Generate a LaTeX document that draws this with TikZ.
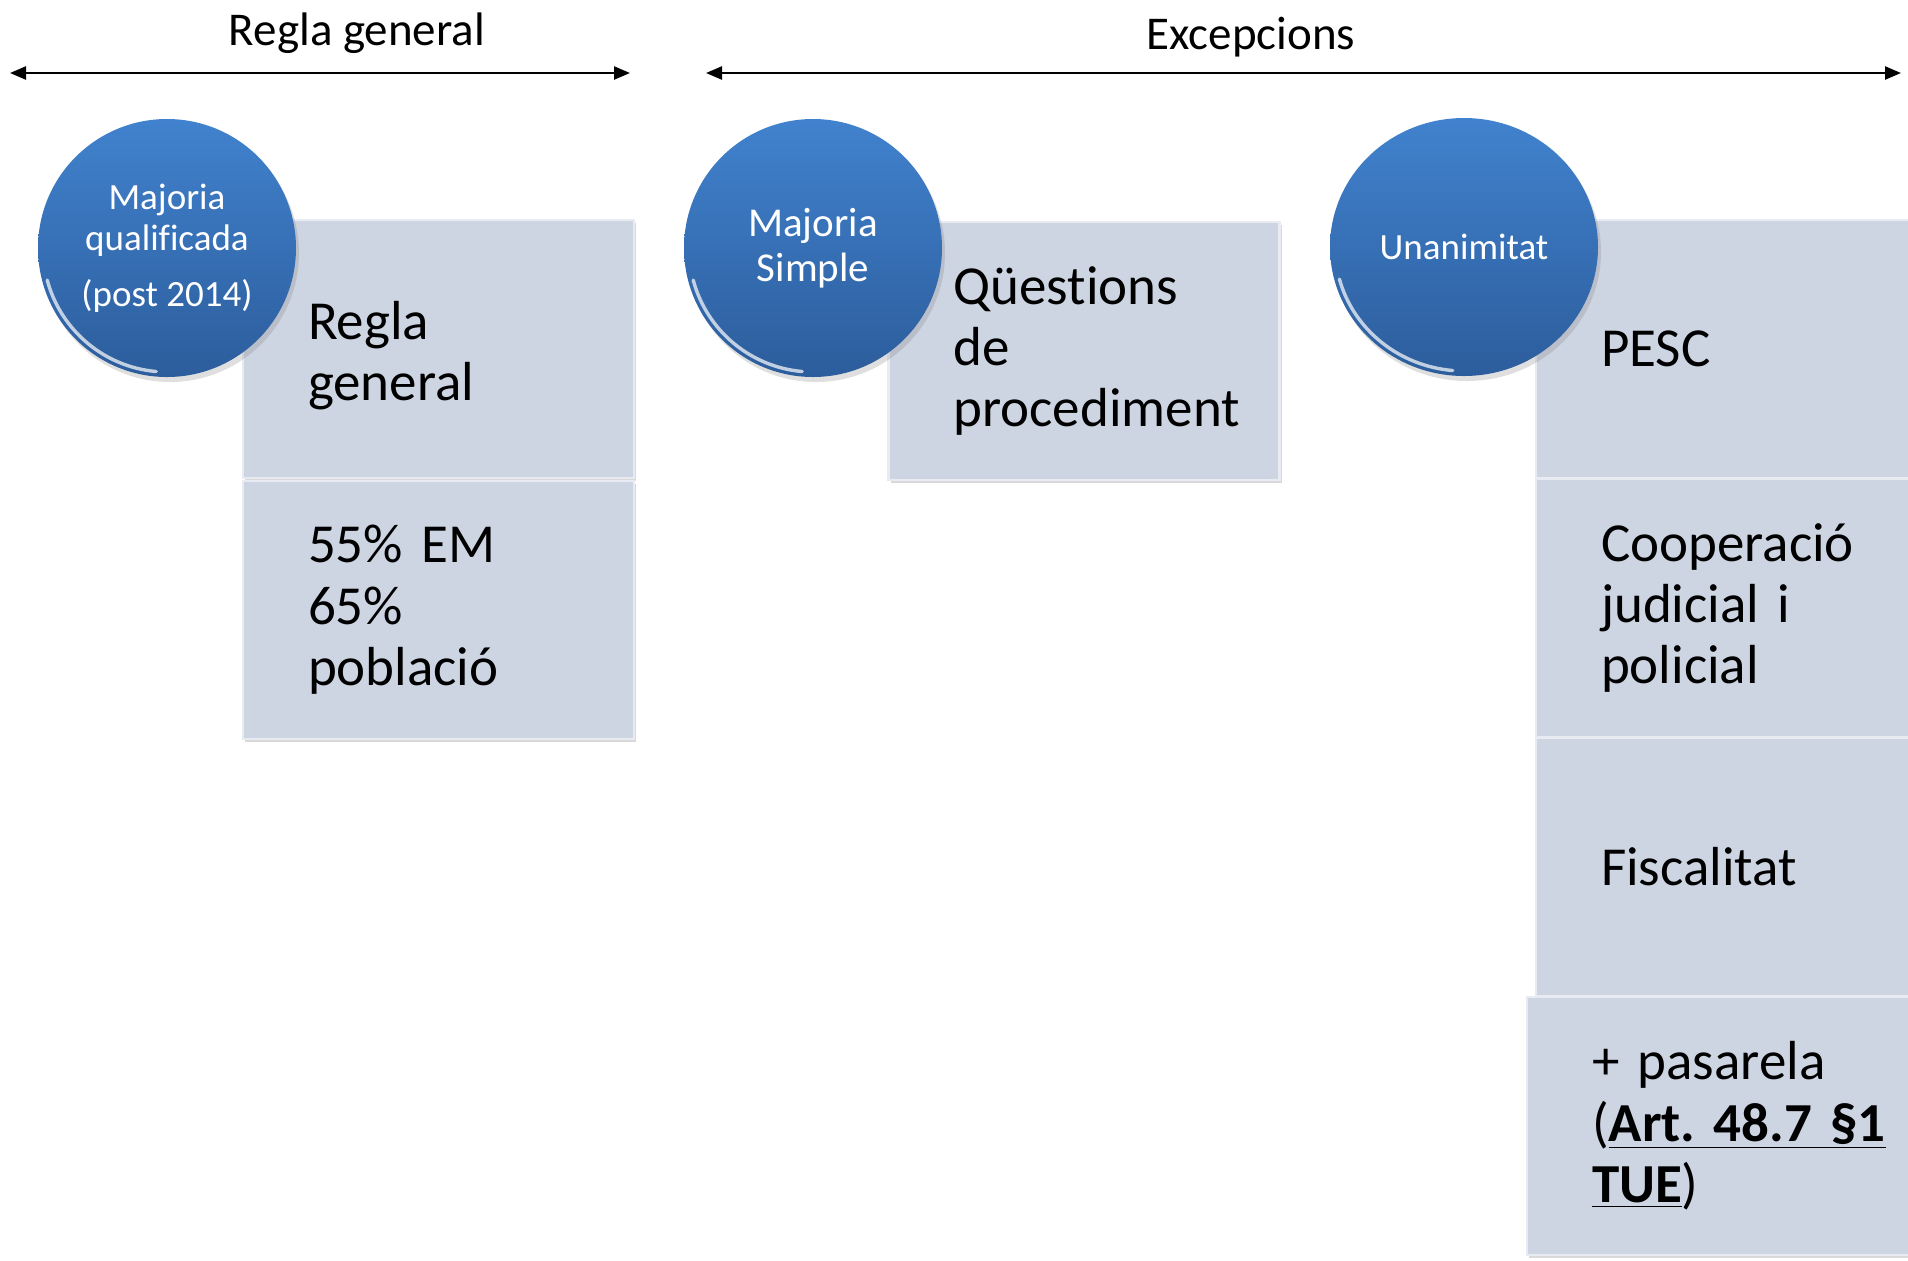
\documentclass[tikz,border=0pt]{standalone}
\usepackage{fontspec}
\setmainfont{Carlito}[Ligatures={CommonOff,RareOff}]
\usetikzlibrary{positioning,shapes.geometric,shadows,arrows.meta}
\definecolor{cellfill}{HTML}{CDD4E2}
\definecolor{balltop}{HTML}{4182CE}
\definecolor{ballbot}{HTML}{2C5D9C}
\frenchspacing

\begin{document}
\begin{tikzpicture}
		[x=0.5pt,y=-0.5pt,
		cell/.style={rectangle,fill=cellfill,draw=white!55!cellfill,line width=1.2pt,outer sep=0pt,
drop shadow={shadow xshift=1pt,shadow yshift=-1.5pt,opacity=0.3},
minimum width=195.5pt,minimum height=129pt,inner xsep=32.5pt,inner ysep=0pt,
text width=130.5pt,align=left,font=\fontsize{27.5}{30.7}\selectfont},
		ball/.style={ellipse,top color=balltop,bottom color=ballbot,draw=none,
inner sep=0pt,minimum width=129pt,minimum height=129pt,text=white,align=center,
drop shadow={shadow xshift=1.5pt,shadow yshift=-2.5pt,opacity=0.25}},
		rim/.style={white,opacity=0.7,line width=1.7pt,line cap=round},
		heading/.style={font=\fontsize{23.5}{28}\selectfont},
		span/.style={{Triangle[length=8pt,width=6.5pt]}-{Triangle[length=8pt,width=6.5pt]},line width=1.2pt}]
		\useasboundingbox (0,0) rectangle (1908,1260);
		% headings
		\node[heading] at (357,33) (tRegla) {Regla general};
		\node[heading] at (1251,37) (tExc) {Excepcions};
		\coordinate (rgW) at (10,73);
		\coordinate (rgE) at (630,73);
		\coordinate (exW) at (706,73);
		\coordinate (exE) at (1901,73);
		\draw[span] (rgW) -- (rgE);
		\draw[span] (exW) -- (exE);
		% boxes
		\node[cell] at (438.5,349) (rg1) {\rule{0pt}{25.5pt}Regla\\general};
		\node[cell,below=1.5pt of rg1] (rg2) {55\% EM\\65\%\\població};
		\node[cell] at (1084,351) (qp) {Qüestions\\de\\procediment};
		\node[cell] at (1731.5,349) (ex1) {PESC};
		\node[cell,below=0.5pt of ex1] (ex2) {Cooperació\\judicial i\\policial};
		\node[cell,below=0.5pt of ex2] (ex3) {Fiscalitat};
		\node[cell,below=0.5pt of ex3,xshift=-4.5pt] (ex4) {+ pasarela\\(\underline{\textbf{Art. 48.7 §1}}\\\underline{\textbf{TUE}})};
		% bubbles
		\node[ball,font=\fontsize{18.5}{20.7}\selectfont] at (167,248) (mq) {Majoria\\qualificada\\[7pt](post 2014)};
		\node[ball,font=\fontsize{20.5}{22.5}\selectfont] at (813,248) (ms) {Majoria\\Simple};
		\node[ball,minimum width=134pt,font=\fontsize{18.5}{20.7}\selectfont] at (1464,247) (un) {Unanimitat};
		\foreach \b in {mq,ms}
			\draw[rim] (\b.center) ++(195:62pt) arc[start angle=195,end angle=265,radius=62pt];
		\draw[rim] (un.center) ++(195:64.5pt and 62pt) arc[start angle=195,end angle=265,x radius=64.5pt,y radius=62pt];
	\end{tikzpicture}
\end{document}
